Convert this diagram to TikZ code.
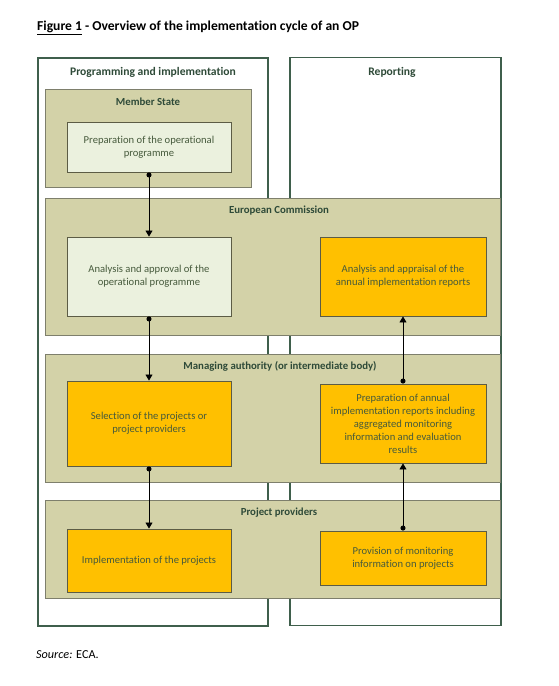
\documentclass[tikz,border=0pt]{standalone}
\usepackage{fontspec}
\setmainfont{Carlito}[Ligatures=NoCommon]
\usetikzlibrary{arrows.meta}
\definecolor{bandfill}{HTML}{D3D2A8}
\definecolor{bandline}{HTML}{7E7F6C}
\definecolor{outerline}{HTML}{3F5F4C}
\definecolor{lightbox}{HTML}{EBF1DE}
\definecolor{orangebox}{HTML}{FFC000}
\definecolor{boxline}{HTML}{5C5C45}
\definecolor{headtext}{HTML}{2E4A38}
\definecolor{bodytext}{HTML}{465A3C}
\tikzset{
  outerbox/.style={draw=outerline, line width=1.1pt, fill=white, inner sep=0pt},
  bandbox/.style={draw=bandline, line width=1pt, fill=bandfill, inner sep=0pt},
  lightstep/.style={draw=boxline, line width=0.9pt, fill=lightbox, align=center, inner sep=0pt,
     text=bodytext, font=\fontsize{10.6}{13}\selectfont},
  orangestep/.style={draw=boxline, line width=0.9pt, fill=orangebox, align=center, inner sep=0pt,
     text=bodytext, font=\fontsize{10.6}{13}\selectfont},
  heading/.style={text=headtext, font=\fontsize{10.8}{12}\selectfont\bfseries, inner sep=0pt},
  colhead/.style={text=headtext, font=\fontsize{11.6}{13}\selectfont\bfseries, inner sep=0pt},
  flow/.style={line width=0.8pt, {Circle[length=5pt]}-{Triangle[length=6pt,width=7pt]}}
}
\begin{document}
\begin{tikzpicture}[x=1pt,y=-1pt]
\useasboundingbox (0,0) rectangle (558,686);
\fill[white] (0,0) rectangle (558,686);

% title and source
\node[anchor=base west, inner sep=0pt, font=\fontsize{13.6}{15}\selectfont\bfseries] (title) at (37,30)
  {\underline{Figure 1} - Overview of the implementation cycle of an OP};
\node[anchor=base west, inner sep=0pt, font=\fontsize{12.2}{14}\selectfont] (source) at (36,658)
  {\textit{Source:} ECA.};

% outer columns
\node[outerbox, minimum width=230pt, minimum height=568pt] (leftcol) at (153,342) {};
\node[outerbox, minimum width=211pt, minimum height=568pt] (rightcol) at (395.5,341.5) {};
\node[colhead] (lefthead) at (153,72) {Programming and implementation};
\node[colhead] (righthead) at (392,72) {Reporting};

% bands
\node[bandbox, minimum width=206pt, minimum height=98pt] (msband) at (148,138) {};
\node[bandbox, minimum width=455pt, minimum height=137pt] (ecband) at (272.5,266.5) {};
\node[bandbox, minimum width=455pt, minimum height=128pt] (maband) at (272.5,418) {};
\node[bandbox, minimum width=455pt, minimum height=98pt] (ppband) at (272.5,549) {};

\node[heading] (mshead) at (148,102) {Member State};
\node[heading] (echead) at (279,211) {European Commission};
\node[heading] (mahead) at (280,366) {Managing authority (or intermediate body)};
\node[heading] (pphead) at (279,513) {Project providers};

% step boxes
\node[lightstep, minimum width=164pt, minimum height=50pt] (prep) at (149,147)
  {Preparation of the operational\\programme};
\node[lightstep, minimum width=164pt, minimum height=79pt] (approve) at (149,276.5)
  {Analysis and approval of the\\operational programme};
\node[orangestep, minimum width=164pt, minimum height=85pt] (select) at (149,423.5)
  {Selection of the projects or\\project providers};
\node[orangestep, minimum width=164pt, minimum height=63pt] (implement) at (149,560.5)
  {Implementation of the projects};

\node[orangestep, minimum width=166pt, minimum height=79pt] (appraise) at (403,276.5)
  {Analysis and appraisal of the\\annual implementation reports};
\node[orangestep, minimum width=166pt, minimum height=79pt] (annual) at (403,423.5)
  {Preparation of annual\\implementation reports including\\aggregated monitoring\\information and evaluation\\results};
\node[orangestep, minimum width=166pt, minimum height=54pt] (provide) at (403,558)
  {Provision of monitoring\\information on projects};

% connectors
\draw[flow] (prep.south) -- (approve.north);
\draw[flow] (approve.south) -- (select.north);
\draw[flow] (select.south) -- (implement.north);
\draw[flow] (provide.north) -- (annual.south);
\draw[flow] (annual.north) -- (appraise.south);
\end{tikzpicture}
\end{document}
